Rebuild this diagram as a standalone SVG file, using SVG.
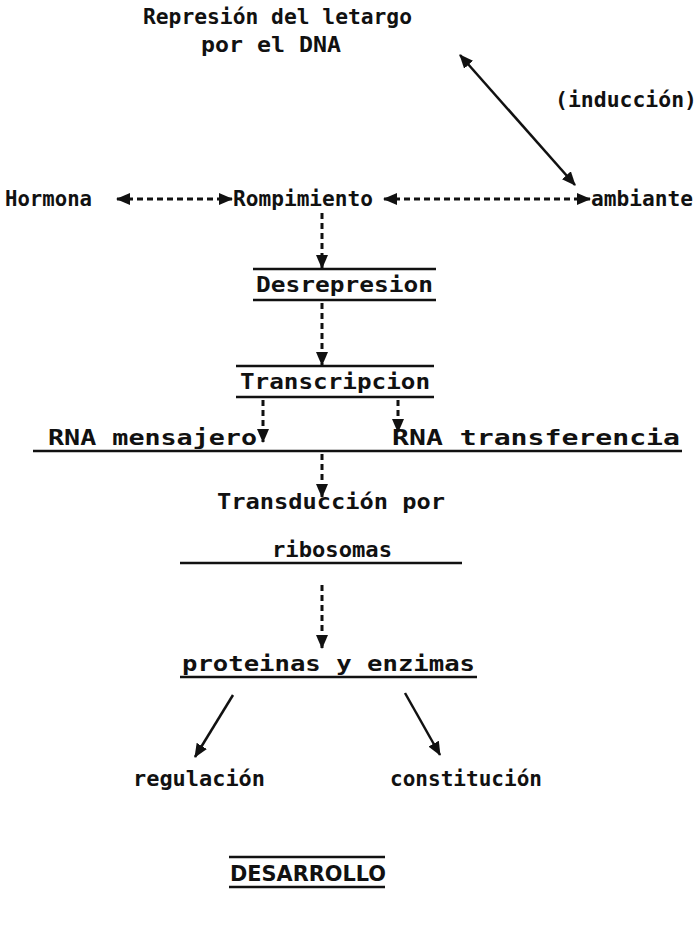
<svg xmlns="http://www.w3.org/2000/svg" width="699" height="930" viewBox="0 0 699 930">
<style>
text{font-family:"DejaVu Sans Mono","Liberation Mono",monospace;font-weight:bold;font-size:22px;fill:#111}
.rule{stroke:#111;stroke-width:2.5;fill:none}
.dash{stroke:#111;stroke-width:3;fill:none;stroke-dasharray:6 4}
.solid{stroke:#111;stroke-width:2.5;fill:none}
</style>
<defs>
<marker id="ah" markerUnits="userSpaceOnUse" markerWidth="14" markerHeight="12" refX="13" refY="6" orient="auto-start-reverse">
<path d="M0,0 L14,6 L0,12 z" fill="#111"/>
</marker>
</defs>
<rect width="699" height="930" fill="#fff"/>
<g id="connectors">
<line class="solid" x1="460" y1="55" x2="575" y2="185" marker-start="url(#ah)" marker-end="url(#ah)"/>
<line class="dash" x1="117" y1="199" x2="232" y2="199" marker-start="url(#ah)" marker-end="url(#ah)"/>
<line class="dash" x1="384" y1="199" x2="590" y2="199" marker-start="url(#ah)" marker-end="url(#ah)"/>
<line class="dash" x1="322" y1="213" x2="322" y2="268" marker-end="url(#ah)"/>
<line class="dash" x1="322" y1="303" x2="322" y2="365" marker-end="url(#ah)"/>
<line class="dash" x1="263" y1="400" x2="263" y2="442" marker-end="url(#ah)"/>
<line class="dash" x1="398" y1="400" x2="398" y2="432" marker-end="url(#ah)"/>
<line class="dash" x1="322" y1="454" x2="322" y2="497" marker-end="url(#ah)"/>
<line class="dash" x1="322" y1="585" x2="322" y2="648" marker-end="url(#ah)"/>
<line class="solid" x1="233" y1="695" x2="195" y2="757" marker-end="url(#ah)"/>
<line class="solid" x1="405" y1="693" x2="440" y2="755" marker-end="url(#ah)"/>
</g>
<g id="represion"><text x="143" y="24" textLength="269" lengthAdjust="spacingAndGlyphs">Represión del letargo</text><text x="201" y="52" textLength="140" lengthAdjust="spacingAndGlyphs">por el DNA</text></g>
<g id="induccion"><text x="555" y="107" textLength="142" lengthAdjust="spacingAndGlyphs">(inducción)</text></g>
<g id="hormona"><text x="5" y="206" textLength="87" lengthAdjust="spacingAndGlyphs">Hormona</text></g>
<g id="rompimiento"><text x="233" y="206" textLength="140" lengthAdjust="spacingAndGlyphs">Rompimiento</text></g>
<g id="ambiante"><text x="591" y="206" textLength="102" lengthAdjust="spacingAndGlyphs">ambiante</text></g>
<g id="desrepresion"><line class="rule" x1="253" y1="269" x2="436" y2="269"/><text x="256" y="292" textLength="177" lengthAdjust="spacingAndGlyphs">Desrepresion</text><line class="rule" x1="253" y1="300" x2="436" y2="300"/></g>
<g id="transcripcion"><line class="rule" x1="236" y1="366" x2="434" y2="366"/><text x="240" y="389" textLength="190" lengthAdjust="spacingAndGlyphs">Transcripcion</text><line class="rule" x1="236" y1="397" x2="434" y2="397"/></g>
<g id="rna"><text x="48" y="445" textLength="209" lengthAdjust="spacingAndGlyphs">RNA mensajero</text><text x="392" y="445" textLength="288" lengthAdjust="spacingAndGlyphs">RNA transferencia</text><line class="rule" x1="33" y1="451" x2="682" y2="451" stroke-width="3"/></g>
<g id="transduccion"><text x="217" y="509" textLength="228" lengthAdjust="spacingAndGlyphs">Transducción por</text><text x="272" y="557" textLength="120" lengthAdjust="spacingAndGlyphs">ribosomas</text><line class="rule" x1="180" y1="563" x2="462" y2="563"/></g>
<g id="proteinas"><text x="182" y="671" textLength="293" lengthAdjust="spacingAndGlyphs">proteinas y enzimas</text><line class="rule" x1="180" y1="677" x2="477" y2="677"/></g>
<g id="regulacion"><text x="133" y="786" textLength="132" lengthAdjust="spacingAndGlyphs">regulación</text></g>
<g id="constitucion"><text x="390" y="786" textLength="152" lengthAdjust="spacingAndGlyphs">constitución</text></g>
<g id="desarrollo"><line class="rule" x1="229" y1="857" x2="385" y2="857" stroke-width="3"/><text x="230" y="881" textLength="156" lengthAdjust="spacingAndGlyphs" style="font-family:'DejaVu Sans','Liberation Sans',sans-serif;font-weight:bold">DESARROLLO</text><line class="rule" x1="229" y1="887" x2="385" y2="887" stroke-width="1.5"/></g>
</svg>
